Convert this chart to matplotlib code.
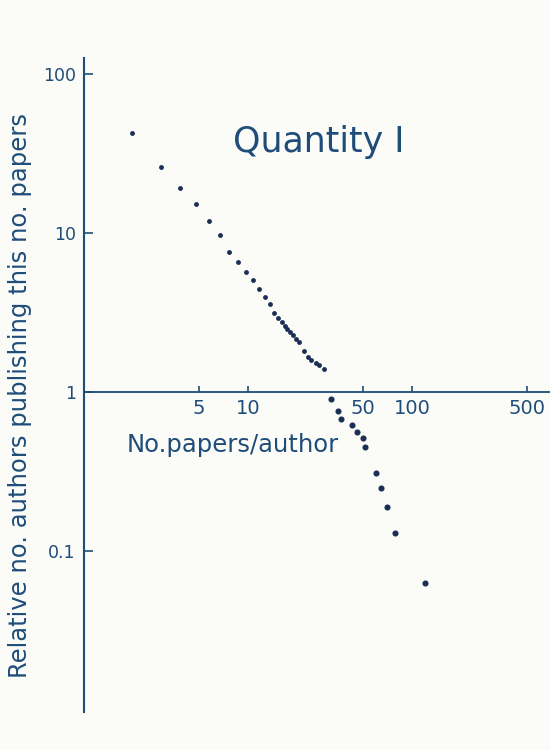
import numpy as np
import matplotlib
matplotlib.use("Agg")
import matplotlib.pyplot as plt
from matplotlib.ticker import FixedLocator, FixedFormatter, NullLocator

# points above the x axis (papers per author, relative no. of authors)
x_upper = [1.95, 2.93, 3.85, 4.79, 5.78, 6.75, 7.69, 8.73, 9.67, 10.7, 11.7,
           12.7, 13.6, 14.4, 15.3, 16.2, 16.8, 17.4, 18.0, 18.8, 19.6, 20.5,
           21.9, 23.2, 24.3, 25.8, 27.1, 29.1]
y_upper = [42.4, 26.1, 19.1, 15.2, 11.9, 9.71, 7.63, 6.54, 5.71, 5.04, 4.47,
           3.94, 3.58, 3.15, 2.93, 2.74, 2.61, 2.49, 2.37, 2.28, 2.16, 2.06,
           1.82, 1.65, 1.59, 1.53, 1.48, 1.40]

# tail below 1
x_lower = [31.9, 35.5, 36.7, 43.3, 46.4, 50.5, 51.7, 60.0, 64.3, 70.7, 78.8, 120]
y_lower = [0.90, 0.76, 0.68, 0.62, 0.56, 0.51, 0.45, 0.31, 0.25, 0.19, 0.13, 0.063]

xticks = [5, 10, 50, 100, 500]
xtick_labels = ["5", "10", "50", "100", "500"]
yticks = [0.1, 1, 10, 100]
ytick_labels = ["0.1", "1", "10", "100"]

ink = "#1f4d7a"
dot = "#1b2f55"

fig = plt.figure(figsize=(5.5, 7.5), dpi=100)
fig.patch.set_facecolor("#fbfbf8")
ax = fig.add_axes([84 / 550, 1 - 712 / 750, (550 - 84) / 550, (712 - 58) / 750])
ax.set_facecolor("#fbfbf8")
ax.set_xscale("log")
ax.set_yscale("log")
ax.set_xlim(1, 10 ** ((550 - 84) / 164))
ax.set_ylim(10 ** ((392 - 712) / 159), 10 ** ((392 - 58) / 159))

ax.plot(x_upper, y_upper, "o", color=dot, ms=3.5, mec="none", clip_on=False)
ax.plot(x_lower, y_lower, "o", color=dot, ms=4.4, mec="none", clip_on=False)

for s in ["top", "right"]:
    ax.spines[s].set_visible(False)
ax.spines["bottom"].set_position(("data", 1))
ax.spines["left"].set_color(ink)
ax.spines["bottom"].set_color(ink)
ax.spines["left"].set_linewidth(1.5)
ax.spines["bottom"].set_linewidth(1.3)

ax.xaxis.set_major_locator(FixedLocator(xticks))
ax.xaxis.set_major_formatter(FixedFormatter(xtick_labels))
ax.xaxis.set_minor_locator(NullLocator())
ax.yaxis.set_major_locator(FixedLocator(yticks))
ax.yaxis.set_major_formatter(FixedFormatter(ytick_labels))
ax.yaxis.set_minor_locator(NullLocator())

ax.tick_params(axis="x", direction="in", length=4.5, width=1.2, color=ink,
               labelcolor=ink, labelsize=14, pad=5)
ax.tick_params(axis="y", direction="in", length=6.5, width=1.2, color=ink,
               labelcolor=ink, labelsize=12.5, pad=6)

fig.text(233 / 550, 1 - 152 / 750, "Quantity I", fontsize=25, color=ink,
         ha="left", va="baseline")
fig.text(127 / 550, 1 - 452 / 750, "No.papers/author", fontsize=17.5, color=ink,
         ha="left", va="baseline")

fig.text(20 / 550, 1 - 396 / 750, "Relative no. authors publishing this no. papers",
         rotation=90, fontsize=17.5, color=ink, ha="center", va="center")

fig.savefig("out.png", dpi=100, facecolor=fig.get_facecolor())
